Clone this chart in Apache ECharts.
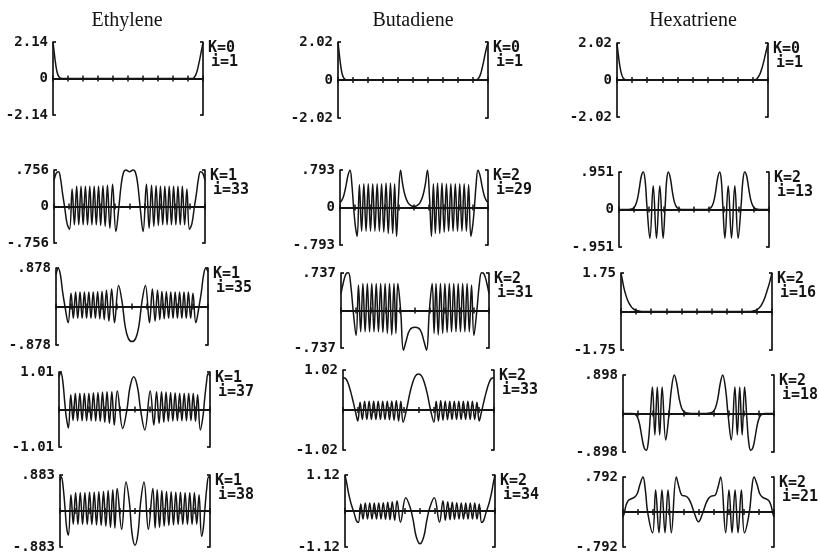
<!DOCTYPE html>
<html><head><meta charset="utf-8">
<script src="https://cdn.jsdelivr.net/npm/echarts@6/dist/echarts.min.js"></script>
<style>html,body{margin:0;padding:0;background:#fff}#c{width:820px;height:554px}</style>
</head><body><div id="c"></div><script>
// ---------- column titles and panel labels ----------
const columnTitles = ['Ethylene', 'Butadiene', 'Hexatriene'];
const axisMax = [[2.14, 0.756, 0.878, 1.01, 0.883], [2.02, 0.793, 0.737, 1.02, 1.12], [2.02, 0.951, 1.75, 0.898, 0.792]];
const topTickLabels = [['2.14', '.756', '.878', '1.01', '.883'], ['2.02', '.793', '.737', '1.02', '1.12'], ['2.02', '.951', '1.75', '.898', '.792']];
const bottomTickLabels = [['-2.14', '-.756', '-.878', '-1.01', '-.883'], ['-2.02', '-.793', '-.737', '-1.02', '-1.12'], ['-2.02', '-.951', '-1.75', '-.898', '-.792']];
const kLabels = [['K=0', 'K=1', 'K=1', 'K=1', 'K=1'], ['K=0', 'K=2', 'K=2', 'K=2', 'K=2'], ['K=0', 'K=2', 'K=2', 'K=2', 'K=2']];
const iLabels = [['i=1', 'i=33', 'i=35', 'i=37', 'i=38'], ['i=1', 'i=29', 'i=31', 'i=33', 'i=34'], ['i=1', 'i=13', 'i=16', 'i=18', 'i=21']];
const zeroLabelRows = [true, true, false, false, false];

// ---------- curves: [position along chain (0-100), amplitude] ----------
const ethyleneK0i1 = [[0,2.14],[0.7,1.6],[1.4,1.1],[2.1,0.65],[2.8,0.35],[3.5,0.17],[4.3,0.07],[5.2,0.02],[6.5,0],[93,0],[94,0.05],[95,0.18],[96,0.42],[97,0.78],[98,1.2],[99,1.65],[100,2.1]];
const ethyleneK1i33 = [[0,0.54],[1.5,0.69],[3.0,0.72],[4.4,0.56],[5.7,0.26],[7.0,0],[8.7,-0.36],[10.3,-0.47],
  [12.0,0.36],[13.5,-0.38],[15.0,0.42],[16.4,-0.38],[17.9,0.42],[19.3,-0.38],[20.8,0.42],[22.2,-0.38],[23.7,0.42],[25.1,-0.38],[26.6,0.42],[28.0,-0.38],[29.5,0.42],[30.9,-0.39],[32.4,0.43],[33.9,-0.41],[35.4,0.44],[37.0,-0.45],[38.8,0.46],[41.0,-0.52],
  [43.0,0],[44.5,0.45],[46.0,0.70],[47.7,0.755],[50,0.72],[52.3,0.755],[54.0,0.70],[55.5,0.45],[57.0,0],
  [59.0,-0.52],[61.2,0.46],[63.0,-0.45],[64.6,0.44],[66.1,-0.41],[67.6,0.43],[69.1,-0.39],[70.5,0.42],[72.0,-0.38],[73.4,0.42],[74.9,-0.38],[76.3,0.42],[77.8,-0.38],[79.2,0.42],[80.7,-0.38],[82.1,0.42],[83.6,-0.38],[85.0,0.42],[86.5,-0.38],[88.0,0.36],[89.7,-0.47],
  [91.3,-0.36],[93.0,0],[94.3,0.26],[95.6,0.56],[97.0,0.72],[98.5,0.69],[100,0.54]];
const ethyleneK1i35 = [[0,0.73],[1.5,0.87],[2.9,0.72],[4.4,0.32],[5.9,0],[8.0,-0.37],
  [9.9,0.30],[11.4,-0.27],[12.9,0.33],[14.3,-0.27],[15.8,0.33],[17.2,-0.27],[18.7,0.33],[20.1,-0.27],[21.6,0.33],[23.0,-0.27],[24.5,0.33],[25.9,-0.27],[27.4,0.34],[28.8,-0.28],[30.3,0.35],[31.7,-0.30],[33.2,0.37],[34.8,-0.33],[36.6,0.40],[38.5,-0.37],[41.2,0.48],
  [43.5,0.1],[45.5,-0.45],[47.5,-0.72],[50,-0.8],[52.5,-0.72],[54.5,-0.45],[56.5,0.1],
  [58.8,0.48],[61.5,-0.37],[63.4,0.40],[65.2,-0.33],[66.8,0.37],[68.3,-0.30],[69.7,0.35],[71.2,-0.28],[72.6,0.34],[74.1,-0.27],[75.5,0.33],[77.0,-0.27],[78.4,0.33],[79.9,-0.27],[81.3,0.33],[82.8,-0.27],[84.2,0.33],[85.7,-0.27],[87.1,0.33],[88.6,-0.27],[90.1,0.30],[92.0,-0.37],
  [94.1,0],[95.6,0.32],[97.1,0.72],[98.5,0.87],[100,0.8]];
const ethyleneK1i37 = [[0,0.88],[1.2,0.99],[2.4,0.8],[3.8,0.2],[4.8,-0.2],[6.2,-0.5],
  [7.8,0.40],[9.3,-0.30],[10.8,0.44],[12.3,-0.30],[13.8,0.44],[15.3,-0.30],[16.8,0.44],[18.3,-0.30],[19.8,0.44],[21.3,-0.30],[22.8,0.45],[24.3,-0.31],[25.8,0.46],[27.3,-0.32],[28.8,0.47],[30.3,-0.34],[31.8,0.48],[33.4,-0.37],[35.0,0.48],[36.6,-0.42],[38.6,0.50],[42.2,-0.51],
  [45.0,0],[47.0,0.6],[49.5,0.88],[52.0,0.6],[54.0,0],
  [56.8,-0.55],[60.4,0.50],[62.8,-0.42],[64.6,0.48],[66.3,-0.37],[67.9,0.48],[69.4,-0.34],[70.9,0.47],[72.4,-0.32],[73.9,0.46],[75.4,-0.31],[76.9,0.45],[78.4,-0.30],[79.9,0.44],[81.4,-0.30],[82.9,0.44],[84.4,-0.30],[85.9,0.44],[87.4,-0.30],[88.9,0.44],[90.4,-0.32],[91.8,0.40],[93.6,-0.55],
  [95.3,-0.2],[96.5,0.3],[97.6,0.7],[98.8,0.97],[100,0.9]];
const ethyleneK1i38 = [[0,0.75],[0.9,0.84],[2.0,0.62],[3.4,0.05],[4.4,-0.4],[5.6,-0.59],
  [7.3,0.40],[8.85,-0.32],[10.4,0.45],[11.95,-0.33],[13.5,0.45],[15.05,-0.33],[16.6,0.45],[18.15,-0.33],[19.7,0.46],[21.25,-0.33],[22.8,0.46],[24.35,-0.34],[25.9,0.47],[27.45,-0.35],[29.0,0.48],[30.55,-0.37],[32.1,0.50],[33.65,-0.40],[35.2,0.52],[36.6,-0.42],[38.1,0.55],[41.1,-0.45],[44.0,0.71],
  [46.3,0.2],[48.0,-0.55],[50.0,-0.84],[52.0,-0.55],[53.7,0.2],
  [56.0,0.71],[58.9,-0.45],[61.9,0.55],[63.4,-0.42],[64.8,0.52],[66.35,-0.40],[67.9,0.50],[69.45,-0.37],[71.0,0.48],[72.55,-0.35],[74.1,0.47],[75.65,-0.34],[77.2,0.46],[78.75,-0.33],[80.3,0.46],[81.85,-0.33],[83.4,0.45],[84.95,-0.33],[86.5,0.45],[88.05,-0.33],[89.6,0.45],[91.15,-0.32],[92.7,0.40],[94.4,-0.62],
  [95.6,-0.4],[96.6,0.05],[98.0,0.62],[99.1,0.84],[100,0.8]];

const butadieneK0i1 = [[0,2.02],[0.7,1.5],[1.4,1.0],[2.1,0.6],[2.8,0.32],[3.6,0.14],[4.5,0.05],[5.5,0.01],[7,0],[92,0],[93,0.03],[94,0.12],[95,0.3],[96,0.6],[97,0.95],[98,1.35],[99,1.7],[100,2.0]];
const butadieneK2i29 = [[0,0.1],[2,0.2],[3.8,0.42],[5.4,0.68],[6.8,0.79],[8.0,0.5],[9.2,0],[10.4,-0.4],[11.6,-0.61],
  [13.1,0.48],[14.6,-0.50],[16.1,0.50],[17.6,-0.50],[19.1,0.50],[20.6,-0.50],[22.1,0.50],[23.6,-0.50],[25.1,0.50],[26.6,-0.50],[28.1,0.50],[29.6,-0.52],[31.1,0.52],[32.6,-0.55],[34.1,0.52],[35.6,-0.55],[36.9,0.50],[38.2,-0.61],
  [39.5,0.2],[40.9,0.79],[42.3,0.5],[44,0.25],[46,0.1],[48,0.04],[50,0.02],[52,0.04],[54,0.1],[56,0.25],[57.7,0.5],[59.1,0.79],[60.5,0.2],
  [61.8,-0.61],[63.1,0.50],[64.4,-0.55],[65.9,0.52],[67.4,-0.55],[68.9,0.52],[70.4,-0.52],[71.9,0.50],[73.4,-0.50],[74.9,0.50],[76.4,-0.50],[77.9,0.50],[79.4,-0.50],[80.9,0.50],[82.4,-0.50],[83.9,0.50],[85.4,-0.50],[86.9,0.48],[88.4,-0.61],
  [89.6,-0.4],[90.8,0],[92,0.5],[93.2,0.79],[94.6,0.68],[96.2,0.42],[98,0.2],[100,0.1]];
const butadieneK2i31 = [[0,0.33],[1.6,0.55],[3.4,0.72],[5.0,0.74],[6.6,0.5],[8.2,0],[10.2,-0.49],
  [11.8,0.50],[13.3,-0.42],[14.8,0.53],[16.3,-0.42],[17.8,0.53],[19.3,-0.42],[20.8,0.53],[22.3,-0.42],[23.8,0.53],[25.3,-0.42],[26.8,0.53],[28.3,-0.43],[29.8,0.53],[31.3,-0.45],[32.8,0.53],[34.3,-0.48],[35.8,0.53],[37.1,-0.45],[38.4,0.53],
  [40.3,0],[42.2,-0.78],[44,-0.6],[46.5,-0.38],[50,-0.33],[53.5,-0.38],[56,-0.6],[57.8,-0.78],[59.7,0],
  [61.6,0.53],[62.9,-0.45],[64.2,0.53],[65.7,-0.48],[67.2,0.53],[68.7,-0.45],[70.2,0.53],[71.7,-0.43],[73.2,0.53],[74.7,-0.42],[76.2,0.53],[77.7,-0.42],[79.2,0.53],[80.7,-0.42],[82.2,0.53],[83.7,-0.42],[85.2,0.53],[86.7,-0.42],[88.2,0.50],[89.8,-0.49],
  [91.8,0],[93.4,0.5],[95.0,0.74],[96.6,0.72],[98.4,0.55],[100,0.33]];
const butadieneK2i33 = [[0,0.82],[1.8,0.8],[3.4,0.68],[5.2,0.45],[6.8,0.2],[8.3,-0.05],[9.8,-0.28],
  [11.3,0.20],[12.8,-0.24],[14.3,0.22],[15.8,-0.24],[17.3,0.22],[18.8,-0.24],[20.3,0.22],[21.8,-0.24],[23.3,0.22],[24.8,-0.24],[26.3,0.22],[27.8,-0.24],[29.3,0.22],[30.8,-0.25],[32.3,0.23],[33.8,-0.26],[35.3,0.24],[36.8,-0.28],[38.3,0.22],[39.8,-0.31],
  [42,0],[44,0.38],[46,0.68],[48,0.87],[50,0.92],[52,0.87],[54,0.68],[56,0.38],[58,0],
  [60.2,-0.31],[61.7,0.22],[63.2,-0.28],[64.7,0.24],[66.2,-0.26],[67.7,0.23],[69.2,-0.25],[70.7,0.22],[72.2,-0.24],[73.7,0.22],[75.2,-0.24],[76.7,0.22],[78.2,-0.24],[79.7,0.22],[81.2,-0.24],[82.7,0.22],[84.2,-0.24],[85.7,0.22],[87.2,-0.24],[88.7,0.20],[90.2,-0.28],
  [91.7,-0.05],[93.2,0.2],[94.8,0.45],[96.6,0.68],[98.2,0.8],[100,0.82]];
const butadieneK2i34 = [[0,1.12],[1.2,0.85],[2.6,0.5],[4.2,0.2],[6.0,-0.05],[7.6,-0.3],[8.9,-0.36],
  [10.5,0.22],[12.0,-0.25],[13.5,0.25],[15.0,-0.25],[16.5,0.25],[18.0,-0.25],[19.5,0.25],[21.0,-0.25],[22.5,0.25],[24.0,-0.25],[25.5,0.26],[27.0,-0.26],[28.5,0.27],[30.0,-0.27],[31.5,0.29],[33.1,-0.29],[34.7,0.32],[37.0,-0.35],[40.5,0.41],
  [43.5,0.1],[45.5,-0.3],[47.5,-0.8],[50,-1.02],[52.5,-0.8],[54.5,-0.3],[56.5,0.1],
  [59.5,0.41],[63.0,-0.35],[65.3,0.32],[66.9,-0.29],[68.5,0.29],[70.0,-0.27],[71.5,0.27],[73.0,-0.26],[74.5,0.26],[76.0,-0.25],[77.5,0.25],[79.0,-0.25],[80.5,0.25],[82.0,-0.25],[83.5,0.25],[85.0,-0.25],[86.5,0.25],[88.0,-0.25],[89.5,0.22],[91.1,-0.36],
  [92.4,-0.3],[94.0,-0.05],[95.8,0.2],[97.4,0.5],[98.8,0.85],[100,1.12]];

const hexatrieneK0i1 = [[0,2.0],[1,1.3],[2,0.7],[3,0.32],[4,0.12],[5,0.04],[6,0.01],[8,0],[91,0],[92,0.03],[93,0.1],[94,0.22],[95,0.4],[96,0.65],[97,0.95],[98,1.3],[99,1.65],[100,2.0]];
const hexatrieneK2i13 = [[0,0],[6,0],[9,0.02],[10.6,0.08],[12.2,0.25],[13.6,0.55],[14.9,0.85],[16.2,0.95],[17.5,0.7],[18.6,0.1],
  [20.6,-0.73],[22.8,0.6],[25.0,-0.73],[27.2,0.6],[29.4,-0.73],
  [30.8,0.1],[31.8,0.75],[32.9,0.95],[34.2,0.8],[35.6,0.45],[37,0.18],[38.6,0.05],[40.5,0.01],[43,0],[57,0],[59.5,0.01],[61.4,0.05],[63,0.18],[64.4,0.45],[65.8,0.8],[67.1,0.95],[68.2,0.75],[69.2,0.1],
  [70.6,-0.73],[72.8,0.6],[75.0,-0.73],[77.2,0.6],[79.4,-0.73],
  [81.4,0.1],[82.5,0.7],[83.8,0.95],[85.1,0.85],[86.4,0.55],[87.8,0.25],[89.4,0.08],[91,0.02],[94,0],[100,0]];
const hexatrieneK2i16 = [[0,1.75],[1,1.4],[2,1.05],[3,0.8],[4,0.58],[5,0.42],[6,0.3],[7,0.2],[8,0.13],[9,0.08],[10,0.05],[12,0.02],[15,0],[86,0],[88,0.03],[90,0.08],[92,0.2],[93,0.3],[94,0.42],[95,0.58],[96,0.78],[97,1.0],[98,1.22],[99,1.48],[100,1.75]];
const hexatrieneK2i18 = [[0,0],[6,0],[8,-0.02],[9.5,-0.08],[11,-0.25],[12.5,-0.55],[14,-0.8],[15.4,-0.86],[16.8,-0.65],[18,-0.1],
  [19.5,0.62],[21.1,-0.5],[22.7,0.62],[24.3,-0.5],[25.9,0.62],[28.3,-0.62],
  [30.5,0],[32,0.55],[34,0.9],[35.6,0.7],[37.2,0.35],[38.8,0.13],[40.5,0.04],[42.5,0.01],[45,0],[55,0],[57.5,0.01],[59.5,0.04],[61.2,0.13],[62.8,0.35],[64.4,0.7],[66,0.9],[68,0.55],[69.5,0],
  [71.7,-0.62],[74.1,0.62],[75.7,-0.5],[77.3,0.62],[78.9,-0.5],[80.5,0.62],
  [82,-0.1],[83.2,-0.65],[84.6,-0.86],[86,-0.8],[87.5,-0.55],[89,-0.25],[90.5,-0.08],[92,-0.02],[94,0],[100,0]];
const hexatrieneK2i21 = [[0,-0.12],[1,0],[2,0.15],[3.5,0.26],[5.5,0.3],[7.5,0.33],[9.5,0.42],[11.2,0.62],[13.2,0.79],[14.8,0.5],[16.3,0],
  [19.6,-0.47],[21.6,0.5],[23.8,-0.47],[25.8,0.5],[27.8,-0.47],[29.8,0.5],[32.0,-0.47],
  [35.3,0.79],[37.2,0.55],[39,0.38],[41.5,0.36],[43.5,0.3],[45.5,0.15],[47.5,-0.05],[50,-0.22],[52.5,-0.05],[54.5,0.15],[56.5,0.3],[58.5,0.36],[61,0.38],[62.8,0.55],[64.7,0.79],
  [68.0,-0.47],[70.2,0.5],[72.2,-0.47],[74.2,0.5],[76.2,-0.47],[78.4,0.5],[80.4,-0.47],
  [83.7,0],[85.2,0.5],[86.8,0.79],[88.8,0.62],[90.5,0.42],[92.5,0.33],[94.5,0.3],[96.5,0.26],[98,0.15],[99,0],[100,-0.12]];

const panelData = [
  [ethyleneK0i1, ethyleneK1i33, ethyleneK1i35, ethyleneK1i37, ethyleneK1i38],
  [butadieneK0i1, butadieneK2i29, butadieneK2i31, butadieneK2i33, butadieneK2i34],
  [hexatrieneK0i1, hexatrieneK2i13, hexatrieneK2i16, hexatrieneK2i18, hexatrieneK2i21]
];

// ---------- layout (pixels): [left, right, top, bottom] of each panel frame ----------
const panelBoxes = [
  [[53,203,42,115],[54,205,170,243],[56,208,268,345],[59,210,372,447],[60,210,475,547]],
  [[338,488,42,118],[340,488,170,245],[341,489,273,348],[343,494,370,450],[345,495,475,547]],
  [[617,768,43,117],[619,769,172,247],[621,772,273,350],[623,774,375,452],[623,774,477,547]]
];
const titleCenters = [[127,21],[413,21],[693,21]];

const INK = '#141414';
const labelFont = 'DejaVu Sans Mono';
const grids = [], xAxes = [], yAxes = [], series = [], graphics = [];

for (let c = 0; c < 3; c++) {
  graphics.push({type:'text', x: titleCenters[c][0], y: titleCenters[c][1],
    style:{text: columnTitles[c], font: '20px "Liberation Serif"', fill: INK, align:'center', verticalAlign:'middle'}});
  for (let r = 0; r < 5; r++) {
    const gi = grids.length;
    const [l, rt, t, b] = panelBoxes[c][r];
    const m = axisMax[c][r];
    const topLab = topTickLabels[c][r], botLab = bottomTickLabels[c][r], showZero = zeroLabelRows[r];
    grids.push({left: l, top: t, width: rt - l, height: b - t, outerBoundsMode: 'none'});
    ['bottom', 'top'].forEach(pos => {
      xAxes.push({type:'value', gridIndex: gi, min: 0, max: 100, interval: 10, position: pos,
        axisLine:{show:true, onZero:true, lineStyle:{color: INK, width: 2}},
        axisTick:{show:true, length: 3, lineStyle:{color: INK, width: 1.5}},
        axisLabel:{show:false}, splitLine:{show:false}});
    });
    yAxes.push({type:'value', gridIndex: gi, min: -m, max: m, interval: m, position: 'left',
      axisLine:{show:true, onZero:false, lineStyle:{color: INK, width: 1.7}},
      axisTick:{show:true, inside:true, length: 3, lineStyle:{color: INK, width: 1.7}},
      axisLabel:{show:true, margin: 5, color: INK, fontFamily: labelFont, fontWeight: 'bold', fontSize: 14,
        formatter: v => v > 1e-9 ? topLab : (v < -1e-9 ? botLab : (showZero ? '0' : ''))},
      splitLine:{show:false}});
    yAxes.push({type:'value', gridIndex: gi, min: -m, max: m, interval: m, position: 'right',
      axisLine:{show:true, onZero:false, lineStyle:{color: INK, width: 1.7}},
      axisTick:{show:true, inside:true, length: 3, lineStyle:{color: INK, width: 1.7}},
      axisLabel:{show:false}, splitLine:{show:false}});
    series.push({type:'line', xAxisIndex: 2 * gi, yAxisIndex: 2 * gi, data: panelData[c][r],
      smooth: 0.4, symbol:'none', clip: false, animation: false,
      lineStyle:{color: INK, width: 1.5}});
    graphics.push({type:'text', x: rt + 5, y: t + 6,
      style:{text: kLabels[c][r], font: 'bold 15px "DejaVu Sans Mono"', fill: INK, verticalAlign:'middle'}});
    graphics.push({type:'text', x: rt + 8, y: t + 20,
      style:{text: iLabels[c][r], font: 'bold 15px "DejaVu Sans Mono"', fill: INK, verticalAlign:'middle'}});
  }
}

const chart = echarts.init(document.getElementById('c'), null, {renderer: 'canvas'});
chart.setOption({
  backgroundColor: '#ffffff',
  animation: false,
  grid: grids, xAxis: xAxes, yAxis: yAxes, series: series, graphic: graphics
});
</script></body></html>
